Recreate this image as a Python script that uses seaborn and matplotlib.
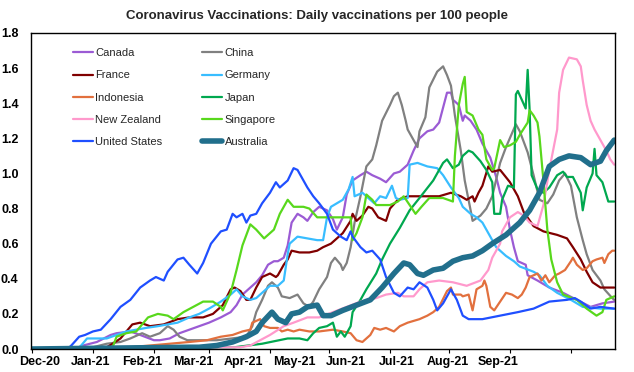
import numpy as np
import pandas as pd
import matplotlib
matplotlib.use("Agg")
import matplotlib.pyplot as plt
import matplotlib.dates as mdates
import seaborn as sns

sns.set_theme(style="white")
plt.rcParams['font.family'] = ['Liberation Sans', 'DejaVu Sans']

START = pd.Timestamp("2020-12-01")

# ---- data: day offsets from 1 Dec 2020 and daily vaccinations per 100 people ----
canada_d = [0,24,26,33,40,43,50,55,62,65,70,75,80,85,90,96,101,104,107,111,114,117,120,123,125,128,130,132,135,138,140,143,146,150,153,155,158,160,163,167,170,173,177,180,184,187,191,194,197,201,204,207,211,213,214,217,219,220,223,226,229,233,236,238,241,243,245,247,251,252,257,263,270,277,284,287,290,296]
canada_v = [0,0.01,0.02,0.04,0.08,0.09,0.10,0.08,0.05,0.05,0.06,0.09,0.11,0.13,0.15,0.18,0.21,0.25,0.31,0.35,0.38,0.42,0.48,0.50,0.50,0.52,0.59,0.72,0.77,0.75,0.73,0.78,0.81,0.79,0.74,0.68,0.75,0.88,0.96,0.99,1.01,0.99,0.97,0.95,1.00,1.01,1.05,1.13,1.20,1.24,1.25,1.29,1.46,1.46,1.42,1.39,1.30,1.33,1.30,1.25,1.17,1.09,0.98,0.89,0.81,0.68,0.58,0.50,0.48,0.42,0.39,0.35,0.32,0.28,0.24,0.25,0.26,0.27]

china_d = [0,29,31,38,45,50,56,60,65,69,72,75,79,94,109,112,114,117,120,122,125,127,131,135,138,141,143,146,150,152,154,157,158,160,162,164,167,170,173,175,178,182,184,186,188,190,191,194,196,197,200,202,206,209,211,213,215,218,220,223,224,228,231,234,238,241,246,248,252,255,258,262,265,268,271,274,277,280,282,285,289,291,295,296]
china_v = [0,0.01,0.01,0.03,0.04,0.06,0.09,0.07,0.09,0.13,0.11,0.07,0.05,0.05,0.07,0.13,0.21,0.28,0.36,0.38,0.35,0.30,0.29,0.31,0.26,0.24,0.27,0.34,0.41,0.49,0.52,0.48,0.45,0.49,0.58,0.72,0.87,1.04,1.08,1.16,1.30,1.39,1.44,1.46,1.39,1.30,1.25,1.19,1.15,1.24,1.32,1.49,1.58,1.61,1.56,1.50,1.33,1.13,0.96,0.79,0.73,0.76,0.80,0.87,1.06,1.15,1.28,1.24,1.12,0.99,0.85,0.83,0.88,0.96,1.00,0.93,0.75,0.62,0.54,0.45,0.39,0.34,0.29,0.28]

france_d = [0,36,38,41,45,48,51,55,60,67,74,80,87,92,97,101,103,106,109,111,114,117,121,124,125,128,130,132,136,141,145,148,152,155,158,162,163,165,168,171,173,176,180,182,186,191,197,207,213,218,221,224,225,227,229,232,234,238,243,247,250,255,260,267,272,275,279,282,285,289,296]
france_v = [0,0.01,0.01,0.03,0.06,0.10,0.14,0.15,0.13,0.14,0.17,0.18,0.18,0.20,0.25,0.34,0.35,0.33,0.28,0.28,0.35,0.41,0.43,0.41,0.42,0.48,0.51,0.56,0.55,0.55,0.56,0.58,0.60,0.63,0.66,0.73,0.77,0.73,0.76,0.81,0.80,0.75,0.73,0.80,0.85,0.87,0.87,0.87,0.89,0.87,0.85,0.87,0.84,0.89,0.93,1.04,1.01,1.02,0.95,0.87,0.78,0.70,0.67,0.65,0.63,0.58,0.51,0.44,0.38,0.35,0.35]

germany_d = [0,24,25,28,38,43,48,53,58,64,69,74,80,85,90,96,101,104,107,111,114,117,121,125,128,130,131,135,140,145,148,150,152,155,158,161,163,164,168,172,174,177,180,183,185,187,191,192,196,201,206,209,213,215,217,219,223,226,229,233,236,241,245,248,255,258,262,267,274,280,289,296]
germany_v = [0,0.01,0.02,0.06,0.06,0.08,0.10,0.11,0.12,0.13,0.14,0.15,0.18,0.20,0.23,0.27,0.31,0.34,0.30,0.28,0.29,0.32,0.36,0.36,0.39,0.54,0.60,0.64,0.63,0.62,0.62,0.75,0.81,0.83,0.85,0.91,0.98,0.87,0.89,0.85,0.83,0.87,0.86,0.93,0.86,0.85,0.86,1.05,1.06,1.04,1.03,0.99,0.92,0.89,0.86,0.81,0.77,0.75,0.72,0.64,0.58,0.53,0.50,0.47,0.44,0.42,0.36,0.32,0.28,0.24,0.23,0.23]

indonesia_d = [0,50,60,70,80,89,96,102,107,111,112,116,118,121,125,127,130,133,136,141,146,153,158,162,165,168,172,174,177,180,184,187,191,194,197,201,204,207,211,213,214,218,219,222,224,226,229,230,231,233,235,238,241,244,247,249,251,253,257,259,261,263,266,268,271,274,275,277,280,282,285,287,290,291,293,295,296]
indonesia_v = [0,0.01,0.02,0.03,0.04,0.05,0.07,0.08,0.10,0.11,0.15,0.17,0.13,0.12,0.12,0.10,0.11,0.10,0.11,0.10,0.10,0.11,0.10,0.09,0.05,0.04,0.08,0.12,0.11,0.12,0.10,0.13,0.15,0.16,0.17,0.19,0.21,0.24,0.33,0.35,0.31,0.31,0.30,0.31,0.22,0.34,0.36,0.39,0.36,0.24,0.22,0.27,0.32,0.31,0.29,0.31,0.35,0.41,0.43,0.39,0.42,0.38,0.42,0.43,0.45,0.50,0.52,0.48,0.45,0.46,0.50,0.51,0.52,0.49,0.54,0.56,0.56]

japan_d = [0,103,117,130,136,140,143,146,150,153,155,157,159,162,163,167,170,175,178,182,187,192,197,204,209,211,214,217,219,222,224,228,231,234,235,238,239,242,245,246,247,249,251,252,253,254,257,260,263,267,270,272,275,279,280,282,285,286,287,290,293,296]
japan_v = [0,0.01,0.03,0.06,0.06,0.05,0.09,0.12,0.13,0.15,0.07,0.10,0.07,0.13,0.21,0.28,0.34,0.43,0.51,0.60,0.69,0.79,0.86,0.96,1.06,1.08,1.03,1.05,1.10,1.13,1.12,1.07,1.02,0.95,0.77,0.77,0.85,0.93,0.92,1.45,1.47,1.42,1.37,1.59,1.36,0.99,0.91,0.89,0.92,0.99,1.01,0.98,0.98,0.89,0.79,0.92,1.00,1.14,0.99,0.95,0.84,0.84]

nz_d = [0,106,111,116,121,128,133,140,146,153,160,167,175,180,186,189,194,197,201,207,214,221,228,232,234,238,239,243,247,250,253,257,260,263,267,268,270,273,277,279,280,282,284,286,289,292,294,296]
nz_v = [0,0.01,0.02,0.05,0.08,0.13,0.15,0.18,0.18,0.21,0.24,0.27,0.29,0.31,0.32,0.30,0.30,0.34,0.38,0.39,0.38,0.36,0.39,0.45,0.52,0.60,0.67,0.75,0.78,0.76,0.72,0.70,0.82,1.02,1.25,1.46,1.59,1.66,1.65,1.61,1.53,1.39,1.30,1.25,1.19,1.13,1.08,1.05]

singapore_d = [0,40,41,43,48,53,59,64,69,72,77,82,87,92,96,97,101,104,107,111,114,118,123,126,130,133,138,141,145,162,163,165,168,170,173,175,182,186,189,192,195,198,202,209,214,215,217,219,220,221,224,227,229,231,234,235,238,240,243,246,248,252,253,255,257,258,260,262,264,267,270,277,282,287,290,292,296]
singapore_v = [0,0.01,0.01,0.07,0.09,0.10,0.18,0.20,0.19,0.17,0.21,0.24,0.27,0.27,0.24,0.22,0.32,0.45,0.59,0.71,0.68,0.63,0.68,0.77,0.85,0.81,0.81,0.80,0.75,0.75,0.62,0.66,0.75,0.88,0.85,0.82,0.82,0.84,0.87,0.82,0.77,0.81,0.86,0.86,0.84,1.10,1.39,1.51,1.55,1.35,1.33,1.25,1.22,1.08,1.02,1.03,1.19,1.15,1.16,1.18,1.22,1.29,1.36,1.33,1.29,1.21,0.96,0.68,0.51,0.38,0.31,0.28,0.23,0.19,0.21,0.28,0.30]

us_d = [0,19,20,24,27,31,35,40,45,50,55,60,63,67,69,74,77,80,84,87,91,96,99,102,104,107,109,111,114,117,121,124,126,130,133,135,137,140,143,146,150,153,157,160,162,163,167,170,173,177,180,184,187,191,194,197,201,204,206,209,213,216,219,222,229,238,247,255,263,272,276,279,284,289,296]
us_v = [0,0.01,0.02,0.07,0.08,0.10,0.11,0.17,0.24,0.28,0.35,0.39,0.41,0.39,0.44,0.51,0.52,0.48,0.43,0.49,0.60,0.67,0.68,0.77,0.75,0.77,0.72,0.76,0.77,0.83,0.89,0.95,0.92,0.96,1.03,1.02,0.98,0.92,0.87,0.83,0.77,0.68,0.64,0.62,0.67,0.64,0.58,0.55,0.56,0.51,0.41,0.32,0.30,0.35,0.34,0.38,0.35,0.28,0.22,0.26,0.34,0.28,0.19,0.17,0.17,0.19,0.21,0.23,0.27,0.28,0.29,0.27,0.23,0.24,0.23]

australia_d = [0,80,85,94,102,109,114,117,122,125,129,132,136,140,145,148,152,158,165,172,178,184,189,192,196,199,204,209,214,219,224,229,234,241,248,253,258,263,268,273,279,284,289,292,296]
australia_v = [0,0.01,0.01,0.02,0.04,0.07,0.10,0.15,0.21,0.17,0.15,0.20,0.21,0.24,0.25,0.19,0.19,0.22,0.25,0.28,0.35,0.43,0.49,0.48,0.43,0.42,0.45,0.46,0.50,0.52,0.53,0.56,0.60,0.65,0.72,0.79,0.89,1.04,1.08,1.10,1.09,1.05,1.07,1.13,1.19]

# x-axis category labels as printed on the chart (evenly spaced, as in the original)
month_labels = ["Dec-20", "Jan-21", "Feb-21", "Mar-21", "Apr-21", "May-21",
                "Jun-21", "Jul-21", "Aug-21", "Sep-21"]

countries = ["Canada", "China", "France", "Germany", "Indonesia", "Japan",
             "New Zealand", "Singapore", "United States", "Australia"]
series = {
    "Canada": (canada_d, canada_v),
    "China": (china_d, china_v),
    "France": (france_d, france_v),
    "Germany": (germany_d, germany_v),
    "Indonesia": (indonesia_d, indonesia_v),
    "Japan": (japan_d, japan_v),
    "New Zealand": (nz_d, nz_v),
    "Singapore": (singapore_d, singapore_v),
    "United States": (us_d, us_v),
    "Australia": (australia_d, australia_v),
}
colors = {
    "Canada": "#9B5BD4",
    "China": "#808080",
    "France": "#800000",
    "Germany": "#38BDFF",
    "Indonesia": "#E2703E",
    "Japan": "#00A84F",
    "New Zealand": "#FF99CC",
    "Singapore": "#58D81C",
    "United States": "#1F4FFF",
    "Australia": "#216F8C",
}

fig = plt.figure(figsize=(6.34, 3.72), dpi=100)
ax = fig.add_axes([31/634, 23/372, 584/634, 316/372])

handles = {}
for name in countries:
    d, v = series[name]
    df = pd.DataFrame({"date": START + pd.to_timedelta(d, unit="D"), "value": v})
    lw = 4.0 if name == "Australia" else 1.6
    sns.lineplot(data=df, x="date", y="value", color=colors[name], linewidth=lw,
                 estimator=None, ax=ax, label=name, legend=False)
    handles[name] = ax.lines[-1]

ax.set_xlim(START - pd.Timedelta(hours=12), START + pd.Timedelta(days=296.4))
ax.set_ylim(0, 1.8)
ax.set_yticks(np.arange(0, 1.81, 0.2))
ax.set_yticklabels([f"{t:.1f}" for t in np.arange(0, 1.81, 0.2)])

# tick marks at month starts, labels spaced evenly as in the original chart
ax.xaxis.set_major_locator(mdates.MonthLocator())
ax.xaxis.set_major_formatter(mdates.DateFormatter(""))
label_step = 25.9
label_pos = [mdates.date2num(START + pd.Timedelta(days=4.1 + i * label_step))
             for i in range(len(month_labels))]
ax.set_xticks(label_pos, minor=True)
ax.set_xticklabels(month_labels, minor=True)
ax.set_xlabel("")
ax.set_ylabel("")
for lab in ax.get_xticklabels(minor=True) + ax.get_yticklabels():
    lab.set_fontweight("bold")
    lab.set_fontsize(9)
    lab.set_color("black")
ax.tick_params(axis="x", which="major", length=3, width=0.8, color="black",
               direction="out", bottom=True)
ax.tick_params(axis="x", which="minor", length=0, pad=5, bottom=True)
ax.tick_params(axis="y", length=0, pad=9)
for s in ax.spines.values():
    s.set_visible(True)
    s.set_color("black")
    s.set_linewidth(1.0)

order = ["Canada", "France", "Indonesia", "New Zealand", "United States",
         "China", "Germany", "Japan", "Singapore", "Australia"]
leg = ax.legend([handles[n] for n in order], order, ncol=2, frameon=False,
                loc="upper left", bbox_to_anchor=(0.072, 0.952),
                borderpad=0, borderaxespad=0, handlelength=1.8, handletextpad=0.2,
                columnspacing=3.6, labelspacing=1.1, fontsize=8)

fig.text(0.5, 1 - 16/372, "Coronavirus Vaccinations: Daily vaccinations per 100 people",
         ha="center", va="center", fontsize=9.5, fontweight="bold")

fig.savefig("out.png", dpi=100)
